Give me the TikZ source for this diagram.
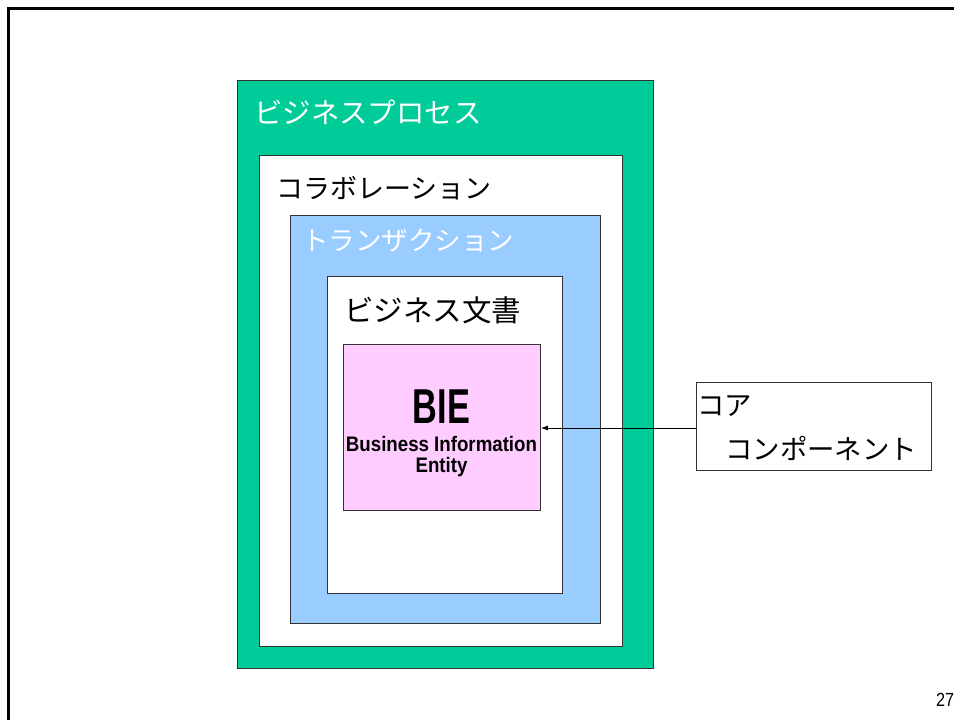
\documentclass[tikz,border=0pt]{standalone}
\usepackage{fontspec}
\usetikzlibrary{arrows.meta}
\newfontfamily\jp{Noto Sans CJK JP}
\newfontfamily\lat{Liberation Sans}
\definecolor{bpgreen}{HTML}{00CC99}
\definecolor{trblue}{HTML}{99CCFF}
\definecolor{biepink}{HTML}{FFCCFF}
\tikzset{
  box/.style={draw=black!80, line width=0.9pt, anchor=north west, inner sep=0pt},
  lbl/.style={anchor=west, inner sep=0pt},
}
\newcommand{\fs}[1]{\fontsize{#1pt}{#1pt}\selectfont}
\begin{document}
\begin{tikzpicture}[x=1pt,y=-1pt]
\useasboundingbox (0,0) rectangle (954,720);
% frame
\coordinate (fbl) at (8.3,724);
\coordinate (ftl) at (8.3,8.3);
\coordinate (ftr) at (958,8.3);
\draw[line width=3.2pt] (fbl) -- (ftl) -- (ftr);
% nested boxes
\node[box, fill=bpgreen, minimum width=416pt, minimum height=588pt] (bp) at (237,80) {};
\node[box, fill=white, minimum width=363pt, minimum height=491pt] (co) at (259,155) {};
\node[box, fill=trblue, minimum width=310pt, minimum height=408pt] (tr) at (290,215) {};
\node[box, fill=white, minimum width=235pt, minimum height=317pt] (doc) at (327,276) {};
\node[box, fill=biepink, minimum width=197pt, minimum height=166pt] (pink) at (343,344) {};
\node[box, fill=white, minimum width=235pt, minimum height=88pt] (core) at (696,382) {};
% labels
\node[lbl, text=white] (tbp) at (254,112) {\jp\fs{28.4}ビジネスプロセス};
\node[lbl] (tco) at (276,188) {\jp\fs{27}コラボレーション};
\node[lbl, text=white] (ttr) at (302,241) {\jp\fs{26.5}トランザクション};
\node[lbl] (tdoc) at (344,310) {\jp\fs{29.5}ビジネス文書};
\node[lbl] (tcore1) at (697,406) {\jp\fs{27.4}コア};
\node[lbl] (tcore2) at (725,448) {\jp\fs{27.4}コンポーネント};
% BIE text
\node[anchor=base, inner sep=0pt] (tbie) at (441.5,423) {\scalebox{0.7}[1]{\lat\bfseries\fs{49}BIE}};
\node[anchor=base, inner sep=0pt] (tbi) at (441.5,451) {\scalebox{0.89}[1]{\lat\bfseries\fs{21}Business Information}};
\node[anchor=base, inner sep=0pt] (tent) at (441.5,472) {\scalebox{0.89}[1]{\lat\bfseries\fs{21}Entity}};
% page number
\node[anchor=base west, inner sep=0pt] (pg) at (936,706) {\scalebox{0.85}[1]{\lat\fs{19}27}};
% arrow
\draw[-{Latex[length=7pt,width=5pt]}, line width=0.8pt] (core.west |- 0,428) -- (pink.east |- 0,428);
\end{tikzpicture}
\end{document}
